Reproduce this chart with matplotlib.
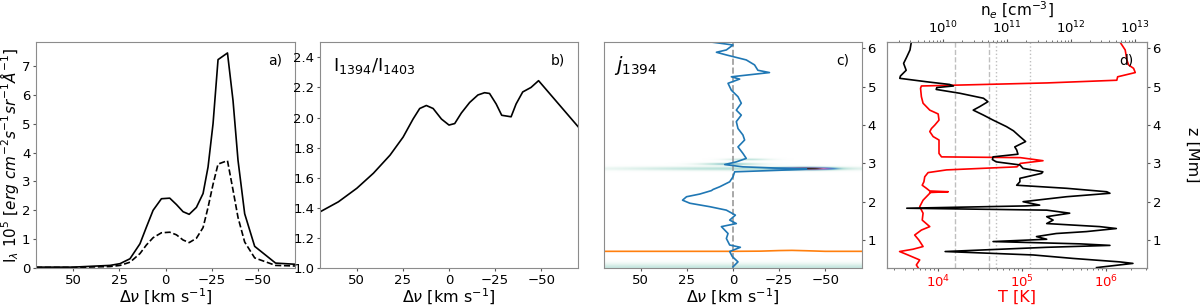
import numpy as np
import matplotlib
matplotlib.use("Agg")
import matplotlib.pyplot as plt
from matplotlib.colors import LinearSegmentedColormap

plt.rcParams['font.family'] = ['DejaVu Sans']
plt.rcParams['font.size'] = 9.5
plt.rcParams['axes.labelsize'] = 11.5
plt.rcParams['mathtext.fontset'] = 'dejavusans'
for ax_ in ('xtick', 'ytick'):
    plt.rcParams[f'{ax_}.major.size'] = 2
    plt.rcParams[f'{ax_}.minor.size'] = 1.2
    plt.rcParams[f'{ax_}.major.pad'] = 2
    plt.rcParams[f'{ax_}.minor.pad'] = 2
    plt.rcParams[f'{ax_}.color'] = '0.35'
    plt.rcParams[f'{ax_}.labelcolor'] = 'black'

# ---------------- Panel a: intensity profiles ----------------
va = [70, 50, 30, 24.6, 19.2, 13.8, 10.3, 6.7, 2.2, -2.3, -5.9, -9.5, -12.8, -16.7,
      -20.3, -23.0, -25.7, -28.4, -33.5, -36.5, -39.2, -42.8, -48.2, -59.5, -70]
i1394 = [0.03, 0.03, 0.09, 0.15, 0.32, 0.84, 1.42, 2.0, 2.4, 2.42, 2.2, 1.95, 1.86, 2.1,
         2.58, 3.5, 5.0, 7.22, 7.45, 5.8, 3.73, 1.88, 0.75, 0.17, 0.13]
i1403 = [0.02, 0.02, 0.05, 0.09, 0.2, 0.5, 0.8, 1.05, 1.22, 1.24, 1.15, 0.97, 0.88, 1.03,
         1.4, 2.1, 2.9, 3.6, 3.72, 2.7, 1.75, 0.9, 0.35, 0.09, 0.07]

# ---------------- Panel b: ratio ----------------
vb = [70, 60, 50, 41, 32, 24.9, 19.5, 15.9, 12.3, 8.6, 4.1, 0, -3.1, -6.7, -11.2, -15.7,
      -19.3, -22, -25.6, -28.6, -33.7, -36.4, -40, -44.5, -48.6, -70]
ratio = [1.373, 1.44, 1.53, 1.63, 1.75, 1.87, 1.99, 2.06, 2.08, 2.06, 1.99, 1.95, 1.96,
         2.03, 2.10, 2.15, 2.165, 2.16, 2.09, 2.015, 2.005, 2.09, 2.17, 2.2, 2.245, 1.94]

# ---------------- Panel c: velocity vs height ----------------
zc = [0.30, 0.43, 0.57, 0.70, 0.81, 0.87, 1.04, 1.17, 1.35, 1.43, 1.52, 1.65, 1.78, 1.87,
      1.96, 2.04, 2.13, 2.20, 2.29, 2.32, 2.39, 2.52, 2.65, 2.78, 2.83, 2.85, 2.91, 2.97,
      3.04, 3.13, 3.26, 3.43, 3.61, 3.74, 3.91, 4.09, 4.26, 4.39, 4.57, 4.74, 4.91, 5.09,
      5.20, 5.26, 5.37, 5.43, 5.57, 5.70, 5.83, 5.90, 5.96, 6.09, 6.16]
vel = [0, -2.7, 0.4, 1.8, -4, 1.8, 3.6, 2.7, 6.3, -1.8, 1.8, -1.3, 3.6, 12.6,
       23.4, 27.4, 25.2, 18, 11.7, 10.8, 7.2, 1.8, 0, -0.9, -30.6, -40, -5.4, 4.5,
       -1.8, -7.2, -5.4, -2.7, -6.3, -5.4, -2.7, -1.8, -4.5, -1.8, -4.5, -2.7, 0.9, 2.7,
       -3.6, 0.9, -19.8, -13.5, -11.7, -7.2, 3.6, 9, 3.6, 0, 10.8]
v_orange = [70, 0, -15, -25, -32, -40, -50, -70]
z_orange = [0.705, 0.705, 0.71, 0.725, 0.73, 0.72, 0.705, 0.705]

# emissivity bands (z centre, z width, v centre, v width, amplitude)
band_z = [2.86, 2.86, 2.98, 3.10, 0.27]
band_zw = [0.035, 0.05, 0.03, 0.025, 0.12]
band_v = [-40, -5, 2, -8, 0]
band_vw = [14, 70, 16, 12, 400]
band_amp = [1.0, 0.25, 0.35, 0.25, 0.2]

# ---------------- Panel d: atmosphere ----------------
zt = [6.16, 5.96, 5.70, 5.57, 5.48, 5.37, 5.26, 5.17, 5.10, 5.02, 4.96, 4.74, 4.57, 4.39,
      4.29, 4.13, 4.00, 3.91, 3.83, 3.70, 3.61, 3.43, 3.26, 3.17, 3.15, 3.07, 3.00, 2.91,
      2.83, 2.76, 2.65, 2.52, 2.43, 2.35, 2.28, 2.26, 2.24, 2.22, 2.04, 1.87, 1.70, 1.52,
      1.35, 1.26, 1.13, 1.00, 0.83, 0.76, 0.70, 0.61, 0.48, 0.35, 0.28]
logT = [6.17, 6.23, 6.25, 6.27, 6.33, 6.35, 6.14, 6.13, 5.3, 3.80, 3.79, 3.80, 3.82, 3.90,
        4.00, 4.01, 3.96, 3.92, 3.90, 3.94, 4.01, 4.01, 4.01, 4.04, 4.98, 5.25, 4.98, 4.94,
        4.10, 3.88, 3.84, 3.83, 3.81, 3.86, 3.90, 4.12, 3.90, 3.90, 3.82, 3.78, 3.82, 3.81,
        3.90, 3.80, 3.72, 3.77, 3.82, 3.70, 3.54, 3.64, 3.78, 3.74, 3.76]
zn = [6.16, 5.96, 5.78, 5.61, 5.43, 5.28, 5.22, 5.13, 5.06, 5.02, 4.98, 4.93, 4.83, 4.70,
      4.61, 4.48, 4.39, 4.26, 4.13, 3.96, 3.85, 3.70, 3.57, 3.43, 3.35, 3.24, 3.17, 3.10,
      3.04, 2.96, 2.87, 2.78, 2.74, 2.61, 2.52, 2.43, 2.35, 2.26, 2.22, 2.13, 2.00, 1.91,
      1.89, 1.83, 1.78, 1.70, 1.61, 1.52, 1.43, 1.35, 1.30, 1.22, 1.17, 1.09, 1.02, 0.96,
      0.90, 0.86, 0.81, 0.70, 0.61, 0.52, 0.43, 0.39, 0.35, 0.28]
logne = [9.50, 9.48, 9.43, 9.38, 9.42, 9.33, 9.32, 9.74, 10.10, 10.16, 9.90, 9.89, 10.26,
         10.63, 10.70, 10.57, 10.47, 10.63, 10.78, 10.99, 11.10, 11.20, 11.29, 11.12, 11.15,
         11.17, 10.78, 10.77, 10.83, 11.20, 11.25, 11.56, 11.54, 11.20, 11.20, 11.15, 11.93,
         12.56, 12.61, 11.93, 11.25, 11.51, 11.28, 9.43, 11.62, 11.98, 11.62, 11.72, 11.62,
         12.45, 12.71, 12.24, 11.77, 11.46, 11.62, 10.78, 12.14, 12.61, 11.62, 10.03, 11.41,
         12.03, 12.76, 12.97, 12.76, 12.40]
T_dashed = [1.58e4, 4.0e4]
T_dotted = [4.9e4, 1.23e5]

spine_col = '0.55'
W, H = 1200, 306
fig = plt.figure(figsize=(12, 3.06), dpi=100)

def frac(l, r, t, b):
    return [l / W, 1 - b / H, (r - l) / W, (b - t) / H]

def style(ax):
    for s in ax.spines.values():
        s.set_color(spine_col)

vel_label = r'$\Delta\nu$ [km s$^{-1}$]'
AX_H = 268 - 42.3

def set_xlab(ax):
    ax.set_xlabel(vel_label)
    ax.xaxis.set_label_coords(0.5, -(286.5 - 268) / AX_H)

# a)
axa = fig.add_axes(frac(36, 295, 42.3, 268))
axa.plot(va, i1394, color='k', lw=1.2)
axa.plot(va, i1403, color='k', lw=1.2, ls='--')
axa.set_xlim(70, -70)
axa.set_ylim(0, 7.82)
axa.set_xticks([50, 25, 0, -25, -50])
axa.set_yticks(range(8))
set_xlab(axa)
axa.set_ylabel(r'I$_\lambda$ 10$^5$ [$erg\ cm^{-2} s^{-1} sr^{-1} \AA^{-1}$]', fontsize=11)
axa.yaxis.set_label_coords(-(36 - 21) / 259, 0.5)
axa.text(0.95, 0.95, 'a)', transform=axa.transAxes, ha='right', va='top', fontsize=10)
style(axa)

# b)
axb = fig.add_axes(frac(320, 578, 42.3, 268))
axb.plot(vb, ratio, color='k', lw=1.2)
axb.set_xlim(70, -70)
axb.set_ylim(1.0, 2.5)
axb.set_xticks([50, 25, 0, -25, -50])
axb.set_yticks([1.0, 1.2, 1.4, 1.6, 1.8, 2.0, 2.2, 2.4])
set_xlab(axb)
axb.text(0.05, 0.94, r'I$_{1394}$/I$_{1403}$', transform=axb.transAxes, ha='left', va='top',
         fontsize=13)
axb.text(0.95, 0.95, 'b)', transform=axb.transAxes, ha='right', va='top', fontsize=10)
style(axb)

# c)
axc = fig.add_axes(frac(604, 862, 42.3, 268))
zmin, zmax = 0.27, 6.16
vg = np.linspace(70, -70, 400)
zg = np.linspace(zmin, zmax, 900)
VV, ZZ = np.meshgrid(vg, zg)
img = np.zeros_like(VV)
for zc0, zw0, vc0, vw0, a0 in zip(band_z, band_zw, band_v, band_vw, band_amp):
    img += a0 * np.exp(-((ZZ - zc0) / zw0) ** 2) * np.exp(-((VV - vc0) / vw0) ** 2)
cmap = LinearSegmentedColormap.from_list(
    'emis', [(0, 'white'), (0.1, '#e6f4ef'), (0.25, '#b5e0d8'), (0.45, '#3b86c4'),
             (0.65, '#8e62c8'), (0.8, '#d07aa8'), (1.0, '#2a2418')])
axc.imshow(img, origin='lower', extent=[70, -70, zmin, zmax], aspect='auto', cmap=cmap,
           vmin=0, vmax=1, interpolation='bilinear')
axc.axvline(0, color='0.6', ls='--', lw=1.2)
axc.plot(v_orange, z_orange, color='#ff7f0e', lw=1.2)
axc.plot(vel, zc, color='#1f77b4', lw=1.2)
axc.set_xlim(70, -70)
axc.set_ylim(zmin, zmax)
axc.set_xticks([50, 25, 0, -25, -50])
axc.set_yticks([1, 2, 3, 4, 5, 6])
axc.yaxis.tick_right()
set_xlab(axc)
axc.text(0.04, 0.95, r'$j_{1394}$', transform=axc.transAxes, ha='left', va='top', fontsize=14)
axc.text(0.95, 0.95, 'c)', transform=axc.transAxes, ha='right', va='top', fontsize=10)
style(axc)

# d)
axd = fig.add_axes(frac(887, 1147, 42.3, 268))
axd.set_xscale('log')
for t in T_dashed:
    axd.axvline(t, color='0.75', ls='--', lw=1.0)
for t in T_dotted:
    axd.axvline(t, color='0.75', ls=':', lw=1.0)
axd.plot(10 ** np.array(logT), zt, color='red', lw=1.2)
axd.set_xlim(10 ** 3.39, 10 ** 6.49)
axd.set_ylim(zmin, zmax)
axd.set_yticks([1, 2, 3, 4, 5, 6])
axd.yaxis.tick_right()
axd.set_ylabel('z [Mm]', rotation=270, va='center')
axd.yaxis.set_label_coords((1193 - 887) / 260, 0.5)
axd.set_xticks([1e4, 1e5, 1e6])
axd.tick_params(axis='x', which='both', labelcolor='red')
axd.set_xlabel('T [K]', color='red')
axd.xaxis.set_label_coords(0.5, -(289.5 - 268) / AX_H)
axd.text(0.95, 0.95, 'd)', transform=axd.transAxes, ha='right', va='top', fontsize=10)
style(axd)

axn = axd.twiny()
axn.set_xscale('log')
axn.plot(10 ** np.array(logne), zn, color='k', lw=1.2)
axn.set_xlim(10 ** 9.12, 10 ** 13.19)
axn.set_xticks([1e10, 1e11, 1e12, 1e13])
axn.set_xlabel(r'n$_e$ [cm$^{-3}$]', fontsize=11)
axn.xaxis.set_label_coords(0.5, 1 + (42.3 - 16) / AX_H)
style(axn)

fig.savefig('out.png', dpi=100)
